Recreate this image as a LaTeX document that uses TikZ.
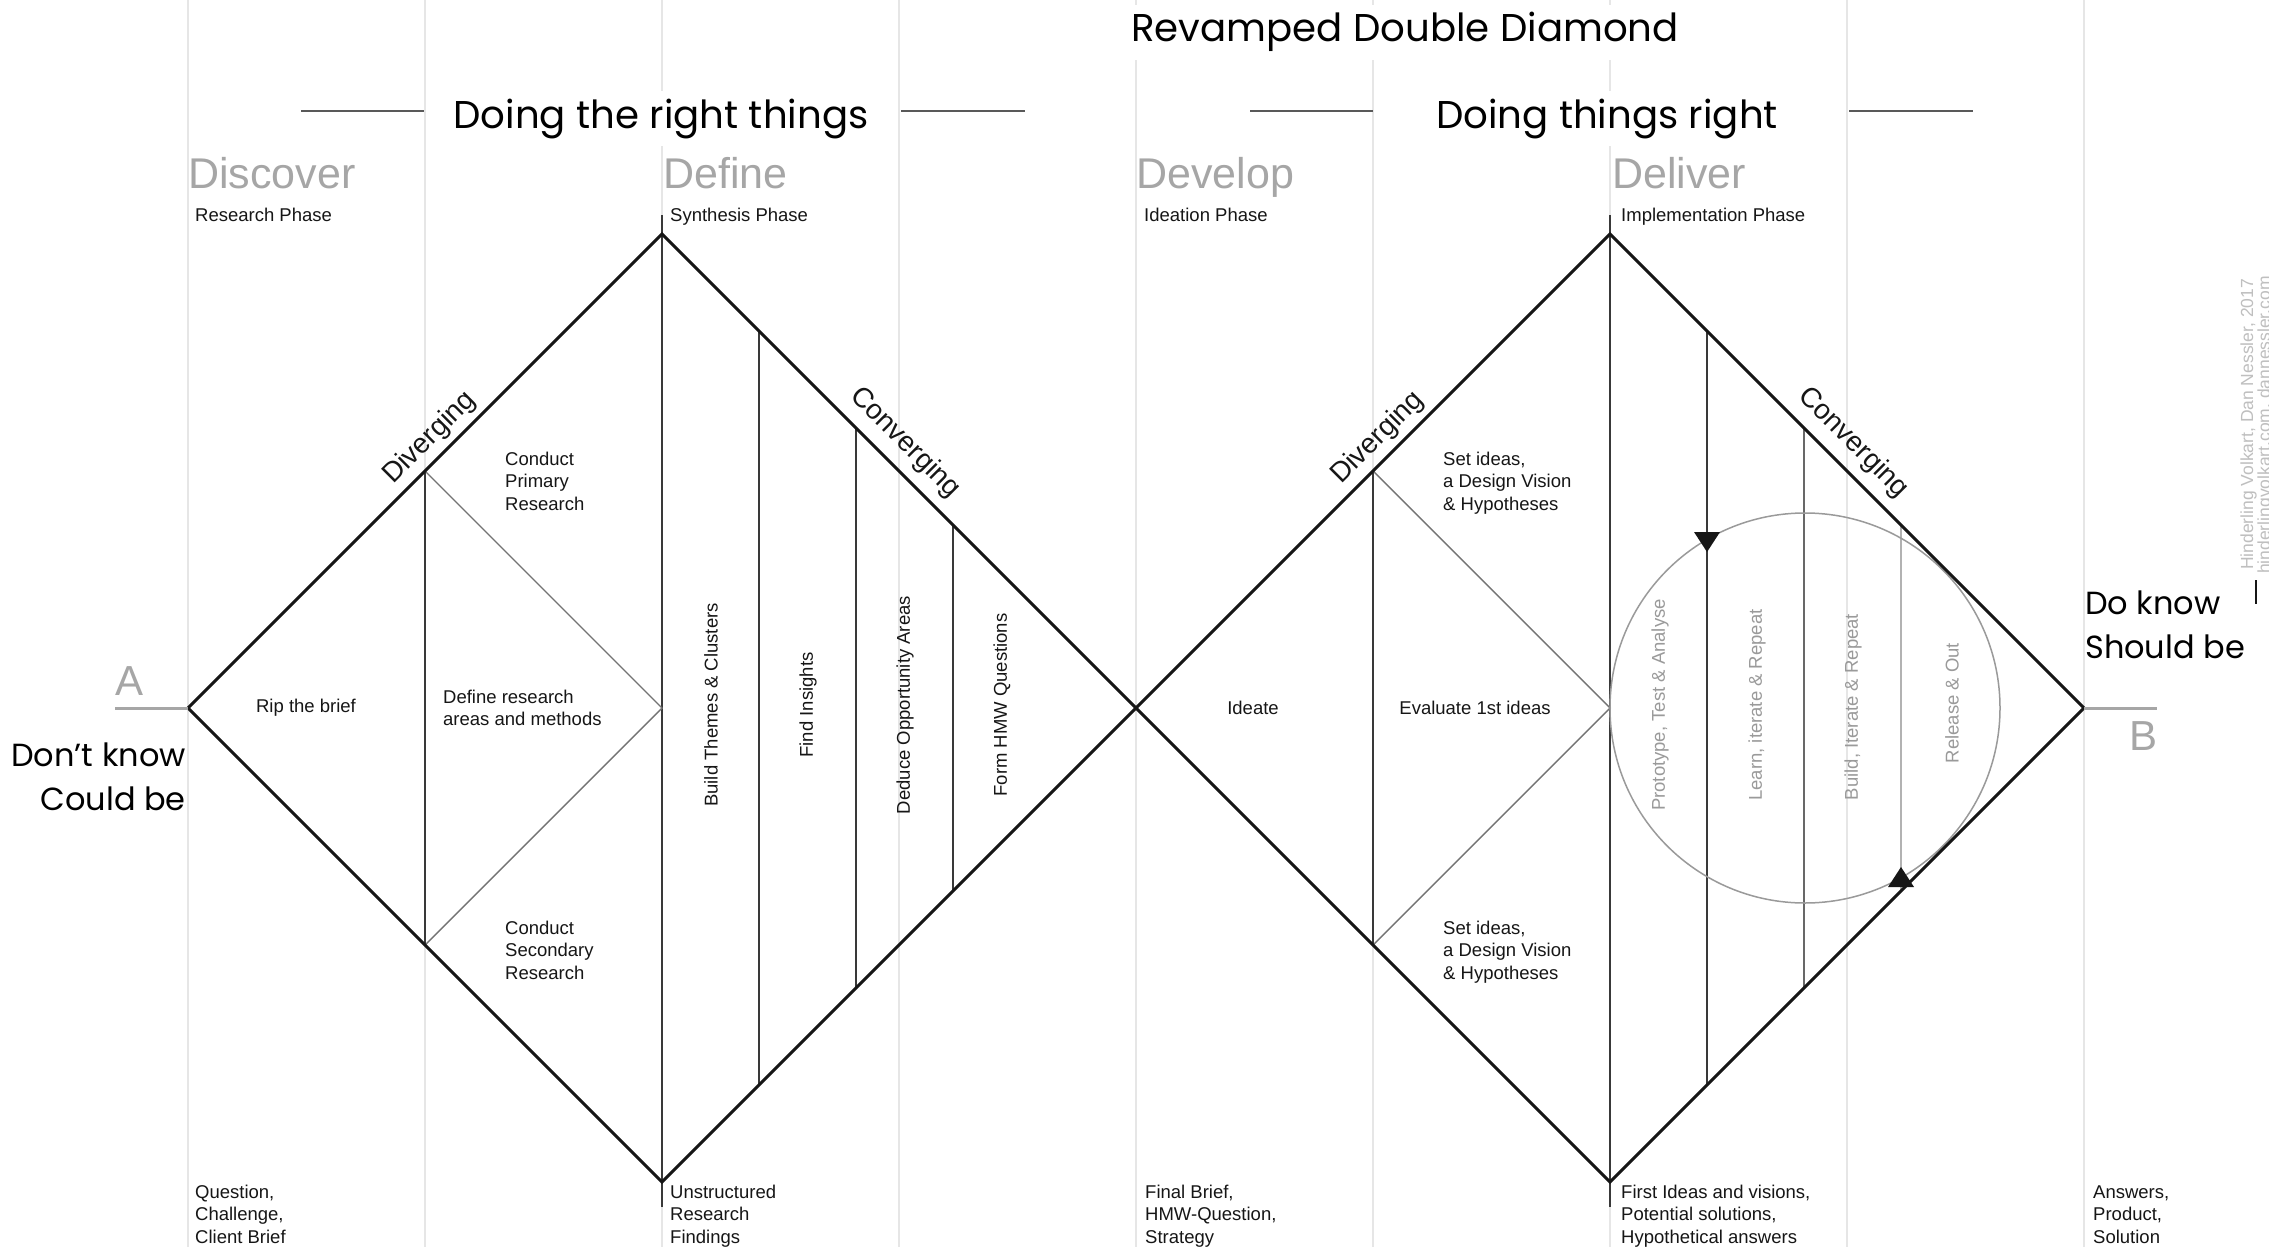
\documentclass[tikz,border=0pt]{standalone}
\usepackage{fontspec}
\setmainfont{Liberation Sans}
\newfontfamily\geofont{Poppins}
% left-aligned multi-line text whose baseline is the first line's baseline
\newcommand\stacklines[1]{\vtop{\halign{##\hfil\cr#1\crcr}}}

\definecolor{ink}{HTML}{161616}
\definecolor{guide}{HTML}{E6E6E6}
\definecolor{phasegray}{HTML}{A6A6A6}
\definecolor{loopgray}{HTML}{9A9A9A}

\begin{document}
\begin{tikzpicture}[x=1pt,y=-1pt,
  guideline/.style={draw=guide, line width=1.5pt},
  outline/.style={draw=ink, line width=3pt, line join=miter},
  column/.style={draw=ink!85, line width=2pt},
  split/.style={draw=black!55, line width=1.4pt},
  loopline/.style={draw=loopgray, line width=1.5pt},
  rule/.style={draw=black!65, line width=2pt},
  small/.style={font=\fontsize{18.5}{22.5}\selectfont, text=ink, inner sep=0pt},
  stack/.style={small, anchor=base west},
  colitem/.style={small, rotate=90},
  loopitem/.style={small, rotate=90, text=loopgray},
  phase/.style={font=\fontsize{43}{43}\selectfont, text=phasegray, inner sep=0pt, anchor=base west},
  headline/.style={font=\geofont\fontsize{38.7}{38.7}\selectfont, text=black, fill=white, inner xsep=4pt, inner ysep=8pt, anchor=base},
  state/.style={font=\geofont\fontsize{32}{32}\selectfont, text=black, inner sep=0pt},
  slope/.style={font=\fontsize{28}{28}\selectfont, text=ink, inner sep=0pt, anchor=base},
  endmark/.style={font=\fontsize{42}{42}\selectfont, text=phasegray, inner sep=0pt, anchor=base west},
  endline/.style={draw=phasegray, line width=3pt},
  credit/.style={font=\fontsize{17.5}{17.5}\selectfont, text=black!25, inner sep=0pt, rotate=90, anchor=base west},
  tip/.style={fill=ink},
]
\useasboundingbox (0,0) rectangle (2269,1247);
\fill[white] (0,0) rectangle (2269,1247);
\clip (0,0) rectangle (2269,1247);

% faint phase guides
\foreach \k in {0,...,8} { \draw[guideline] ({188+237*\k},0) -- ({188+237*\k},1247); }

% diamond corners
\coordinate (L1) at (188,708);
\coordinate (T1) at (662,234);
\coordinate (R1) at (1136,708);
\coordinate (B1) at (662,1182);
\coordinate (T2) at (1610,234);
\coordinate (R2) at (2084,708);
\coordinate (B2) at (1610,1182);

% ---- first diamond: discover / define
\draw[column] (662,215) -- (662,1207);
\draw[column] (425,471) -- (425,945);
\draw[split] (425,471) -- (662,708) -- (425,945);
\draw[column] (759,331) -- (759,1085);
\draw[column] (856,428) -- (856,988);
\draw[column] (953,525) -- (953,891);

% ---- second diamond: develop / deliver
\draw[column] (1610,215) -- (1610,1207);
\draw[column] (1373,471) -- (1373,945);
\draw[split] (1373,471) -- (1610,708) -- (1373,945);
\draw[column] (1707,331) -- (1707,1085);
\draw[column, draw=ink!65] (1804,428) -- (1804,988);
\draw[column, draw=black!30, line width=1.5pt] (1901,525) -- (1901,891);

% iteration loop
\draw[loopline] (1805,708) circle[radius=195];
\fill[tip] (1694,532) -- (1720,532) -- (1707,552) -- cycle;
\fill[tip] (1888,887) -- (1914,887) -- (1901,867) -- cycle;

% outlines
\draw[outline] (L1) -- (T1) -- (R1) -- (B1) -- cycle;
\draw[outline] (R1) -- (T2) -- (R2) -- (B2) -- cycle;

% start and end points
\coordinate (Aend) at (115,708);
\coordinate (Bend) at (2157,708);
\draw[endline] (Aend) -- (L1);
\draw[endline] (R2) -- (Bend);
\node[endmark] (A) at (115,695) {A};
\node[endmark] (B) at (2129,750) {B};
\node[state, anchor=base east] (dk) at (186,766) {Don’t know};
\node[state, anchor=base east] (cb) at (186,810) {Could be};
\node[state, anchor=base west] (dok) at (2085,614) {Do know};
\node[state, anchor=base west] (sb) at (2085,658) {Should be};

% headings
\node[headline] (title) at (1405,42) {Revamped Double Diamond};
\draw[rule] (301,111) -- (424,111);
\draw[rule] (901,111) -- (1025,111);
\node[headline] (rightthings) at (661,128) {Doing the right things};
\draw[rule] (1250,111) -- (1373,111);
\draw[rule] (1849,111) -- (1973,111);
\node[headline] (thingsright) at (1607,128) {Doing things right};

% phase names
\node[phase] (discover) at (188,188) {Discover};
\node[phase] (define) at (663,188) {Define};
\node[phase] (develop) at (1136,188) {Develop};
\node[phase] (deliver) at (1612,188) {Deliver};
\node[stack] (p1) at (195,221) {Research Phase};
\node[stack] (p2) at (670,221) {Synthesis Phase};
\node[stack] (p3) at (1144,221) {Ideation Phase};
\node[stack] (p4) at (1621,221) {Implementation Phase};

% outcomes
\node[stack] (o1) at (195,1198) {\stacklines{Question,\cr Challenge,\cr Client Brief}};
\node[stack] (o2) at (670,1198) {\stacklines{Unstructured\cr Research\cr Findings}};
\node[stack] (o3) at (1145,1198) {\stacklines{Final Brief,\cr HMW-Question,\cr Strategy}};
\node[stack] (o4) at (1621,1198) {\stacklines{First Ideas and visions,\cr Potential solutions,\cr Hypothetical answers}};
\node[stack] (o5) at (2093,1198) {\stacklines{Answers,\cr Product,\cr Solution}};

% slope labels
\node[slope, rotate=45] (div1) at (435,443) {Diverging};
\node[slope, rotate=-45] (con1) at (900,448) {Converging};
\node[slope, rotate=45] (div2) at (1383,443) {Diverging};
\node[slope, rotate=-45] (con2) at (1848,448) {Converging};

% first diamond contents
\node[small] (rip) at (306,708) {Rip the brief};
\node[stack] (prim) at (505,465) {\stacklines{Conduct\cr Primary\cr Research}};
\node[stack] (areas) at (443,703) {\stacklines{Define research\cr areas and methods}};
\node[stack] (sec) at (505,934) {\stacklines{Conduct\cr Secondary\cr Research}};
\node[colitem] (themes) at (711,705) {Build Themes \& Clusters};
\node[colitem] (insights) at (808,705) {Find Insights};
\node[colitem] (deduce) at (905,705) {Deduce Opportunity Areas};
\node[colitem] (hmw) at (1002,705) {Form HMW Questions};

% second diamond contents
\node[small] (ideate) at (1253,708) {Ideate};
\node[small] (evaluate) at (1475,708) {Evaluate 1st ideas};
\node[stack] (set1) at (1443,465) {\stacklines{Set ideas,\cr a Design Vision\cr \& Hypotheses}};
\node[stack] (set2) at (1443,934) {\stacklines{Set ideas,\cr a Design Vision\cr \& Hypotheses}};
\node[loopitem] (proto) at (1660,705) {Prototype, Test \& Analyse};
\node[loopitem] (learn) at (1757,705) {Learn, iterate \& Repeat};
\node[loopitem] (build) at (1853,707) {Build, Iterate \& Repeat};
\node[loopitem] (release) at (1952,703) {Release \& Out};

% credits
\node[credit] (cr1) at (2253,570) {Hinderling Volkart, Dan Nessler, 2017};
\node[credit] (cr2) at (2270,574) {hinderlingvolkart.com, dannessler.com};
\draw[ink, line width=2.5pt] (2256,580) -- (2256,604);
\end{tikzpicture}
\end{document}
